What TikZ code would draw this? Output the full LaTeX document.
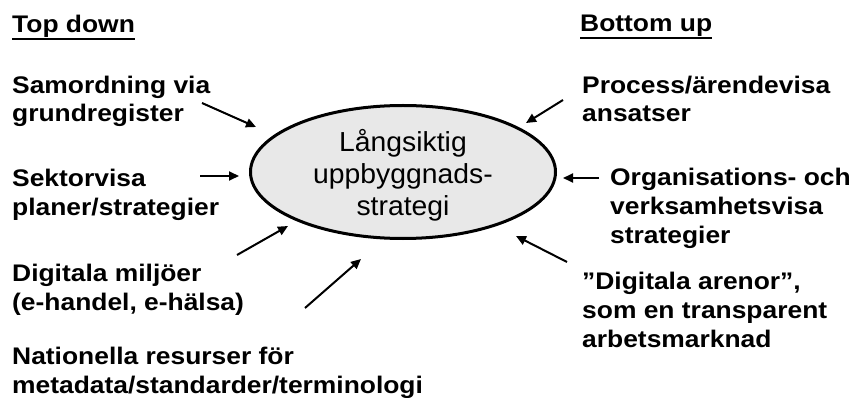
\documentclass[tikz,border=0pt]{standalone}
\usepackage{fontspec}
\setmainfont{Liberation Sans}
\newfontfamily\lblfont{Liberation Sans}[FakeStretch=1.1]
\newfontfamily\ellfont{Liberation Sans}[FakeStretch=1.03]
\usetikzlibrary{arrows.meta,shapes.geometric}
\definecolor{ellfill}{RGB}{232,232,232}
\begin{document}
\begin{tikzpicture}[x=1pt,y=-1pt,
  lbl/.style={anchor=base west, inner sep=0pt, align=left,
    font=\lblfont\bfseries\fontsize{24}{28.7}\selectfont},
  arr/.style={line width=2pt, -{Triangle[length=10pt,width=9pt]}},
  ell/.style={draw, line width=3pt, fill=ellfill, ellipse, inner sep=0pt,
    minimum width=305pt, minimum height=133pt},
  ultxt/.style={line width=1.8pt}]
\useasboundingbox (0,0) rectangle (851,398);

% central ellipse
\node[ell] (ellipse) at (403,172) {};
\node[inner sep=0pt, align=center, anchor=base,
  font=\ellfont\fontsize{27.5}{31.5}\selectfont] (center) at (403,215)
  {Långsiktig\\uppbyggnads-\\strategi};

% headings
\node[lbl] (td) at (12,33) {Top down};
\draw[ultxt] ([yshift=-1pt]td.south west) -- ([yshift=-1pt]td.south east);
\node[lbl] (bu) at (580,32) {Bottom up};
\draw[ultxt] ([yshift=-1pt]bu.south west) -- ([yshift=-1pt]bu.south east);

% left items (anchored at the baseline of the last line)
\node[lbl] (samo) at (12,122) {Samordning via\\grundregister};
\node[lbl] (sekt) at (12,215) {Sektorvisa\\planer/strategier};
\node[lbl] (digm) at (12,310) {Digitala miljöer\\(e-handel, e-hälsa)};
\node[lbl] (nati) at (12,393) {Nationella resurser för\\metadata/standarder/terminologi};

% right items
\node[lbl] (proc) at (582,122) {Process/ärendevisa\\ansatser};
\node[lbl] (orga) at (610,243) {Organisations- och\\verksamhetsvisa\\strategier};
\node[lbl] (diga) at (582,347) {”Digitala arenor”,\\som en transparent\\arbetsmarknad};

% arrow end points
\coordinate (s1) at (202,103); \coordinate (e1) at (256,127);
\coordinate (s2) at (200,176); \coordinate (e2) at (239,176);
\coordinate (s3) at (237,255); \coordinate (e3) at (288,226);
\coordinate (s4) at (305,308); \coordinate (e4) at (361,259);
\coordinate (s5) at (563,100); \coordinate (e5) at (526,123);
\coordinate (s6) at (599,178); \coordinate (e6) at (563,178);
\coordinate (s7) at (567,262); \coordinate (e7) at (516,236);

\draw[arr] (s1) -- (e1);
\draw[arr] (s2) -- (e2);
\draw[arr] (s3) -- (e3);
\draw[arr] (s4) -- (e4);
\draw[arr] (s5) -- (e5);
\draw[arr] (s6) -- (e6);
\draw[arr] (s7) -- (e7);
\end{tikzpicture}
\end{document}
